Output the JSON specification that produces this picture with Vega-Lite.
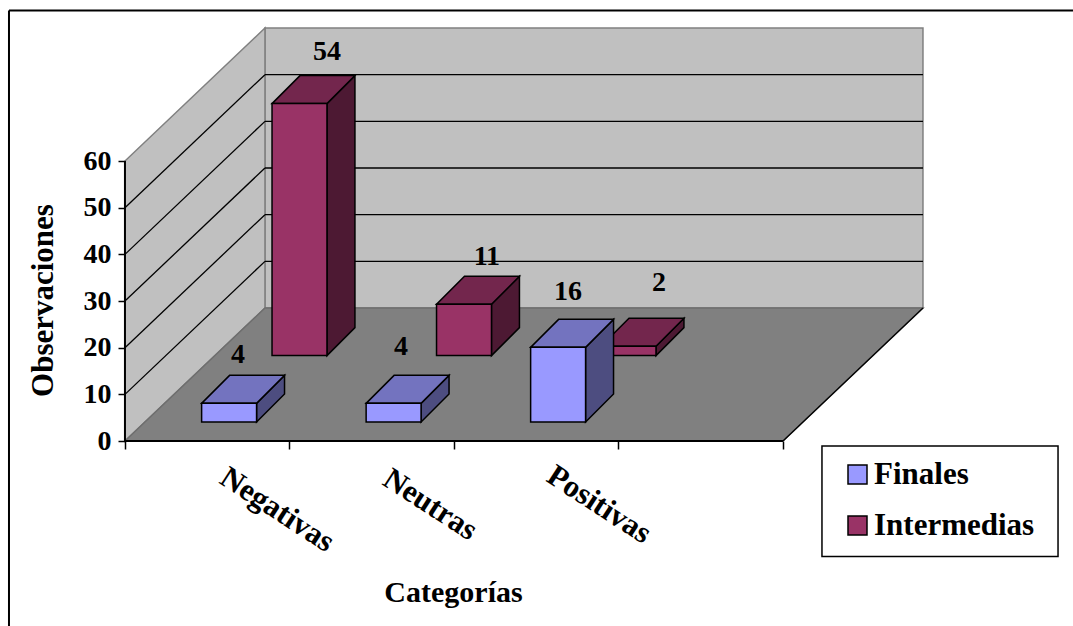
{
"$schema":"https://vega.github.io/schema/vega-lite/v6.json",
"width":1065,"height":616,
"autosize":{"type":"none"},
"padding":{"left":8,"top":10,"right":0,"bottom":0},
"background":"white",
"view":{"stroke":null,"fill":"white"},
"config":{"font":"Liberation Serif"},
"datasets":{
"bars":[
{"category":"Negativas","series":"Finales","value":4},
{"category":"Neutras","series":"Finales","value":4},
{"category":"Positivas","series":"Finales","value":16},
{"category":"Negativas","series":"Intermedias","value":54},
{"category":"Neutras","series":"Intermedias","value":11},
{"category":"Positivas","series":"Intermedias","value":2}
],
"ticks":[{"tick":10},{"tick":20},{"tick":30},{"tick":40},{"tick":50}],
"ends":[{"t":0},{"t":1}],
"one":[{"k":1}]
},
"encoding":{
"x":{"field":"px","type":"quantitative","stack":null,"scale":{"domain":[-0.711,5.763],"nice":false,"zero":false},
"axis":{"orient":"bottom","offset":-185,"values":[0,1,2,3,4],"labels":false,"domain":false,"grid":false,"ticks":true,"tickSize":8,"tickWidth":1.5,"tickColor":"black","zindex":1,
"title":"Categorías","titleFont":"Liberation Serif","titleFontSize":30,"titleFontWeight":"bold","titleColor":"black","titleX":445,"titleY":151,"titleBaseline":"middle","titleAlign":"center"}},
"y":{"field":"py","type":"quantitative","stack":null,"scale":{"domain":[-39.64,92.36],"nice":false,"zero":false},
"axis":{"orient":"left","offset":-117,"values":[0,10,20,30,40,50,60],"format":"d","domain":false,"grid":false,"tickSize":7,"tickWidth":1.5,"tickColor":"black","labelFont":"Liberation Serif","labelFontSize":28,"labelFontWeight":"bold","labelColor":"black","labelPadding":7,"zindex":1,
"title":"Observaciones","titleFont":"Liberation Serif","titleFontSize":31,"titleFontWeight":"bold","titleColor":"black","titleX":-82,"titleY":290,"titleAngle":-90,"titleBaseline":"middle","titleAlign":"center"}}
},
"layer":[
{"data":{"name":"one"},"transform":[{"calculate":"-0.705","as":"px"},{"calculate":"5.763","as":"px2"},{"calculate":"92.25","as":"py"}],
"mark":{"type":"rule","stroke":"black","strokeWidth":2},"encoding":{"x2":{"field":"px2"}}},
{"data":{"name":"one"},"transform":[{"calculate":"-0.705","as":"px"},{"calculate":"92.25","as":"py"},{"calculate":"-39.64","as":"py2"}],
"mark":{"type":"rule","stroke":"black","strokeWidth":2},"encoding":{"y2":{"field":"py2"}}},
{"data":{"name":"one"},"transform":[{"calculate":"4.237","as":"px"},{"calculate":"5.672","as":"px2"},{"calculate":"-1.07","as":"py"},{"calculate":"-24.75","as":"py2"}],
"mark":{"type":"rect","fill":"white","stroke":"black","strokeWidth":1.5},"encoding":{"x2":{"field":"px2"},"y2":{"field":"py2"}}},
{"data":{"name":"one"},"transform":[{"calculate":"0.851","as":"px"},{"calculate":"4.851","as":"px2"},{"calculate":"28.5","as":"py"},{"calculate":"88.5","as":"py2"}],
"mark":{"type":"rect","fill":"#C0C0C0","stroke":"#808080","strokeWidth":1.5},"encoding":{"x2":{"field":"px2"},"y2":{"field":"py2"}}},
{"data":{"name":"ends"},"transform":[{"calculate":"datum.t*0.851","as":"px"},{"calculate":"datum.t*28.5","as":"py"},{"calculate":"60+datum.t*28.5","as":"py2"}],
"mark":{"type":"area","fill":"#C0C0C0","stroke":"#808080","strokeWidth":1.5,"opacity":1},"encoding":{"y2":{"field":"py2"}}},
{"data":{"name":"ends"},"transform":[{"calculate":"datum.t*0.851","as":"px"},{"calculate":"4+datum.t*0.851","as":"px2"},{"calculate":"datum.t*28.5","as":"py"}],
"mark":{"type":"area","orient":"horizontal","fill":"#808080","stroke":"#6E6E6E","strokeWidth":1.5,"opacity":1},"encoding":{"x2":{"field":"px2"}}},
{"data":{"name":"ticks"},"transform":[{"calculate":"0","as":"px"},{"calculate":"0.851","as":"px2"},{"calculate":"datum.tick","as":"py"},{"calculate":"datum.tick+28.5","as":"py2"}],
"mark":{"type":"rule","stroke":"black","strokeWidth":1.3},"encoding":{"x2":{"field":"px2"},"y2":{"field":"py2"}}},
{"data":{"name":"ticks"},"transform":[{"calculate":"0.851","as":"px"},{"calculate":"4.851","as":"px2"},{"calculate":"datum.tick+28.5","as":"py"}],
"mark":{"type":"rule","stroke":"black","strokeWidth":1.3},"encoding":{"x2":{"field":"px2"}}},
{"data":{"name":"one"},"transform":[{"calculate":"4","as":"px"},{"calculate":"4.851","as":"px2"},{"calculate":"0","as":"py"},{"calculate":"28.5","as":"py2"}],
"mark":{"type":"rule","stroke":"black","strokeWidth":1.3},"encoding":{"x2":{"field":"px2"},"y2":{"field":"py2"}}},
{"data":{"name":"one"},"transform":[{"calculate":"0","as":"px"},{"calculate":"4","as":"px2"},{"calculate":"0","as":"py"}],
"mark":{"type":"rule","stroke":"black","strokeWidth":2},"encoding":{"x2":{"field":"px2"}}},
{"data":{"name":"one"},"transform":[{"calculate":"0","as":"px"},{"calculate":"0","as":"py"},{"calculate":"60","as":"py2"}],
"mark":{"type":"rule","stroke":"black","strokeWidth":2},"encoding":{"y2":{"field":"py2"}}},
{"data":{"name":"bars"},
"transform":[
{"calculate":"indexof(['Negativas','Neutras','Positivas'],datum.category)+(datum.series==='Finales'?0.466:0.894)","as":"x0"},
{"calculate":"datum.series==='Finales'?4.07:18.3","as":"v0"},
{"calculate":"[0,1]","as":"t"},{"flatten":["t"]}
],
"layer":[
{"transform":[{"filter":"datum.series==='Intermedias'"},{"calculate":"datum.x0+0.334+datum.t*0.17","as":"px"},{"calculate":"datum.v0+datum.t*6","as":"py"},{"calculate":"datum.py+datum.value","as":"py2"}],
"mark":{"type":"area","fill":"#4D1933","stroke":"black","strokeWidth":1.5,"opacity":1},"encoding":{"detail":{"field":"category"},"y2":{"field":"py2"}}},
{"transform":[{"filter":"datum.series==='Intermedias'"},{"calculate":"datum.x0+datum.t*0.17","as":"px"},{"calculate":"datum.x0+0.334+datum.t*0.17","as":"px2"},{"calculate":"datum.v0+datum.value+datum.t*6","as":"py"}],
"mark":{"type":"area","orient":"horizontal","fill":"#73264D","stroke":"black","strokeWidth":1.5,"opacity":1},"encoding":{"detail":{"field":"category"},"x2":{"field":"px2"}}},
{"transform":[{"filter":"datum.series==='Intermedias'&&datum.t===0"},{"calculate":"datum.x0","as":"px"},{"calculate":"datum.x0+0.334","as":"px2"},{"calculate":"datum.v0","as":"py"},{"calculate":"datum.v0+datum.value","as":"py2"}],
"mark":{"type":"rect","stroke":"black","strokeWidth":1.5},
"encoding":{"x2":{"field":"px2"},"y2":{"field":"py2"},
"color":{"field":"series","type":"nominal","scale":{"domain":["Finales","Intermedias"],"range":["#9999FF","#993366"]},
"legend":{"orient":"none","legendX":834,"legendY":449,"title":null,"padding":0,"fillColor":null,"strokeColor":null,"symbolType":"square","symbolSize":361,"symbolStrokeColor":"black","symbolStrokeWidth":1.5,"symbolOpacity":1,"labelFont":"Liberation Serif","labelFontSize":31,"labelFontWeight":"bold","labelColor":"black","labelOffset":1,"rowPadding":19,"labelLimit":300}}}},
{"transform":[{"filter":"datum.series==='Finales'"},{"calculate":"datum.x0+0.334+datum.t*0.17","as":"px"},{"calculate":"datum.v0+datum.t*6","as":"py"},{"calculate":"datum.py+datum.value","as":"py2"}],
"mark":{"type":"area","fill":"#4D4D80","stroke":"black","strokeWidth":1.5,"opacity":1},"encoding":{"detail":{"field":"category"},"y2":{"field":"py2"}}},
{"transform":[{"filter":"datum.series==='Finales'"},{"calculate":"datum.x0+datum.t*0.17","as":"px"},{"calculate":"datum.x0+0.334+datum.t*0.17","as":"px2"},{"calculate":"datum.v0+datum.value+datum.t*6","as":"py"}],
"mark":{"type":"area","orient":"horizontal","fill":"#7373BF","stroke":"black","strokeWidth":1.5,"opacity":1},"encoding":{"detail":{"field":"category"},"x2":{"field":"px2"}}},
{"transform":[{"filter":"datum.series==='Finales'&&datum.t===0"},{"calculate":"datum.x0","as":"px"},{"calculate":"datum.x0+0.334","as":"px2"},{"calculate":"datum.v0","as":"py"},{"calculate":"datum.v0+datum.value","as":"py2"}],
"mark":{"type":"rect","stroke":"black","strokeWidth":1.5},
"encoding":{"x2":{"field":"px2"},"y2":{"field":"py2"},"color":{"field":"series","type":"nominal"}}},
{"transform":[{"filter":"datum.t===0"},
{"calculate":"{'Negativas|Finales':0.687,'Neutras|Finales':1.678,'Positivas|Finales':2.693,'Negativas|Intermedias':1.228,'Neutras|Intermedias':2.2,'Positivas|Intermedias':3.246}[datum.category+'|'+datum.series]","as":"px"},
{"calculate":"{'Negativas|Finales':18.43,'Neutras|Finales':20.14,'Positivas|Finales':31.9,'Negativas|Intermedias':83.35,'Neutras|Intermedias':39.4,'Positivas|Intermedias':33.85}[datum.category+'|'+datum.series]","as":"py"}],
"mark":{"type":"text","font":"Liberation Serif","fontSize":28,"fontWeight":"bold","fill":"black","align":"center","baseline":"middle"},
"encoding":{"text":{"field":"value","type":"quantitative"}}},
{"transform":[{"filter":"datum.t===0&&datum.series==='Finales'"},
{"calculate":"{'Negativas':0.924,'Neutras':1.854,'Positivas':2.881}[datum.category]","as":"px"},
{"calculate":"{'Negativas':-14.8,'Neutras':-13.7,'Positivas':-13.7}[datum.category]","as":"py"}],
"mark":{"type":"text","font":"Liberation Serif","fontSize":31,"fontWeight":"bold","fill":"black","align":"center","baseline":"middle","angle":33},
"encoding":{"text":{"field":"category","type":"nominal"}}}
]}
]
}
